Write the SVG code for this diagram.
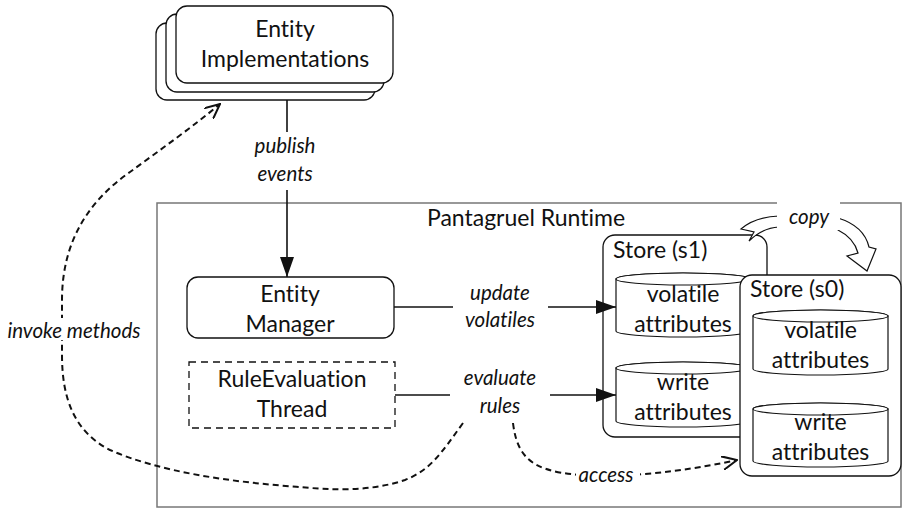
<svg xmlns="http://www.w3.org/2000/svg" width="904" height="512" viewBox="0 0 904 512">
<style>
text{font-variant-ligatures:none;font-feature-settings:"liga" 0,"clig" 0}
.t{font-family:Lato,"Liberation Sans",sans-serif;font-size:23px;fill:#111;text-anchor:middle}
.i{font-family:Lato,"Liberation Sans",sans-serif;font-size:20.5px;font-style:italic;fill:#111;text-anchor:middle}
.box{fill:#fff;stroke:#111;stroke-width:1.3}
.cyl{fill:#fff;stroke:#111;stroke-width:1.2}
.ln{fill:none;stroke:#111;stroke-width:1.6}
.dash{fill:none;stroke:#111;stroke-width:2;stroke-dasharray:6 4}
</style>
<defs>
<marker id="fa" viewBox="0 0 20 14" refX="20" refY="7" markerWidth="20" markerHeight="14" markerUnits="userSpaceOnUse" orient="auto"><path d="M0,0 L20,7 L0,14 Z" fill="#111"/></marker>
<marker id="oa" viewBox="0 0 16 14" refX="15" refY="7" markerWidth="16" markerHeight="14" markerUnits="userSpaceOnUse" orient="auto"><path d="M0,0 L15,7 L0,14" fill="none" stroke="#111" stroke-width="2"/></marker>
</defs>

<g id="runtime">
<rect x="157" y="203" width="744" height="304" fill="#fff" stroke="#777" stroke-width="1.5"/>
<text class="t" x="526" y="226">Pantagruel Runtime</text>
</g>

<g id="entity-implementations">
<rect class="box" x="156" y="23" width="219" height="77" rx="11"/>
<rect class="box" x="166" y="14" width="218" height="78" rx="11"/>
<rect class="box" x="176" y="6" width="217" height="77" rx="11"/>
<text class="t" x="285" y="37">Entity</text>
<text class="t" x="285" y="67">Implementations</text>
</g>

<g id="entity-manager">
<rect class="box" x="187" y="277" width="207" height="61" rx="11"/>
<text class="t" x="290" y="302">Entity</text>
<text class="t" x="290" y="332">Manager</text>
</g>

<g id="rule-evaluation-thread">
<rect x="189" y="362" width="206" height="66" fill="#fff" stroke="#111" stroke-width="1.3" stroke-dasharray="7 5"/>
<text class="t" x="292" y="387">RuleEvaluation</text>
<text class="t" x="292" y="417">Thread</text>
</g>

<g id="store-s1">
<rect class="box" x="603" y="235" width="164" height="202" rx="12"/>
<text class="t" x="613" y="258" style="text-anchor:start">Store (s1)</text>
<g id="s1-volatile">
<path class="cyl" d="M616,279 L616,331 A67,6 0 0 0 750,331 L750,279 A67,6 0 0 0 616,279 Z"/>
<ellipse class="cyl" cx="683" cy="279" rx="67" ry="6"/>
<text class="t" x="683" y="302">volatile</text>
<text class="t" x="683" y="332">attributes</text>
</g>
<g id="s1-write">
<path class="cyl" d="M616,368 L616,421 A67,6 0 0 0 750,421 L750,368 A67,6 0 0 0 616,368 Z"/>
<ellipse class="cyl" cx="683" cy="368" rx="67" ry="6"/>
<text class="t" x="683" y="390">write</text>
<text class="t" x="683" y="420">attributes</text>
</g>
</g>

<g id="store-s0">
<rect class="box" x="740" y="275" width="161" height="201" rx="12"/>
<text class="t" x="750" y="297" style="text-anchor:start">Store (s0)</text>
<g id="s0-volatile">
<path class="cyl" d="M753,316 L753,369 A67.5,6 0 0 0 888,369 L888,316 A67.5,6 0 0 0 753,316 Z"/>
<ellipse class="cyl" cx="820.5" cy="316" rx="67.5" ry="6"/>
<text class="t" x="820.5" y="338">volatile</text>
<text class="t" x="820.5" y="368">attributes</text>
</g>
<g id="s0-write">
<path class="cyl" d="M753,409 L753,461 A67.5,6 0 0 0 888,461 L888,409 A67.5,6 0 0 0 753,409 Z"/>
<ellipse class="cyl" cx="820.5" cy="409" rx="67.5" ry="6"/>
<text class="t" x="820.5" y="430">write</text>
<text class="t" x="820.5" y="460">attributes</text>
</g>
</g>

<g id="connectors">
<path class="ln" d="M287,100 L287,132"/>
<path class="ln" d="M287,190 L287,277" marker-end="url(#fa)"/>
<text class="i" x="285" y="153">publish</text>
<text class="i" x="285" y="181">events</text>

<path class="ln" d="M394,307 L453,307"/>
<path class="ln" d="M548,307 L616,307" marker-end="url(#fa)"/>
<text class="i" x="500" y="300">update</text>
<text class="i" x="500" y="327">volatiles</text>

<path class="ln" d="M395,395 L450,395"/>
<path class="ln" d="M550,395 L616,395" marker-end="url(#fa)"/>
<text class="i" x="500" y="385">evaluate</text>
<text class="i" x="500" y="413">rules</text>

<path class="dash" d="M463,423 C440,455 430,470 405,480 C370,492 330,490 300,487 C230,482 160,472 110,450 C75,432 62,400 62,355 L62,300 C62,240 90,200 130,172 C160,150 195,125 220,104" marker-end="url(#oa)"/>
<rect x="10" y="318" width="130" height="22" fill="#fff"/>
<text class="i" x="74" y="338">invoke methods</text>

<path class="dash" d="M513,423 C518,465 540,474 600,476 C650,476 700,468 737,460" marker-end="url(#oa)"/>
<rect x="576" y="463" width="64" height="22" fill="#fff"/>
<text class="i" x="606" y="482">access</text>

<g id="copy-arrow">
<path d="M779,216 Q755,217 741,229 L754,232 L749,241 Q762,228 779,227 Z" fill="#fff" stroke="#111" stroke-width="1.2"/>
<path d="M838,218 Q864,226 869,247 L876,249 L867,271 L847,256 L858,253 Q854,238 838,230 Z" fill="#fff" stroke="#111" stroke-width="1.2"/>
<rect x="777" y="196" width="63" height="34" fill="#fff"/>
<text class="i" x="809" y="224">copy</text>
</g>
</g>
</svg>
